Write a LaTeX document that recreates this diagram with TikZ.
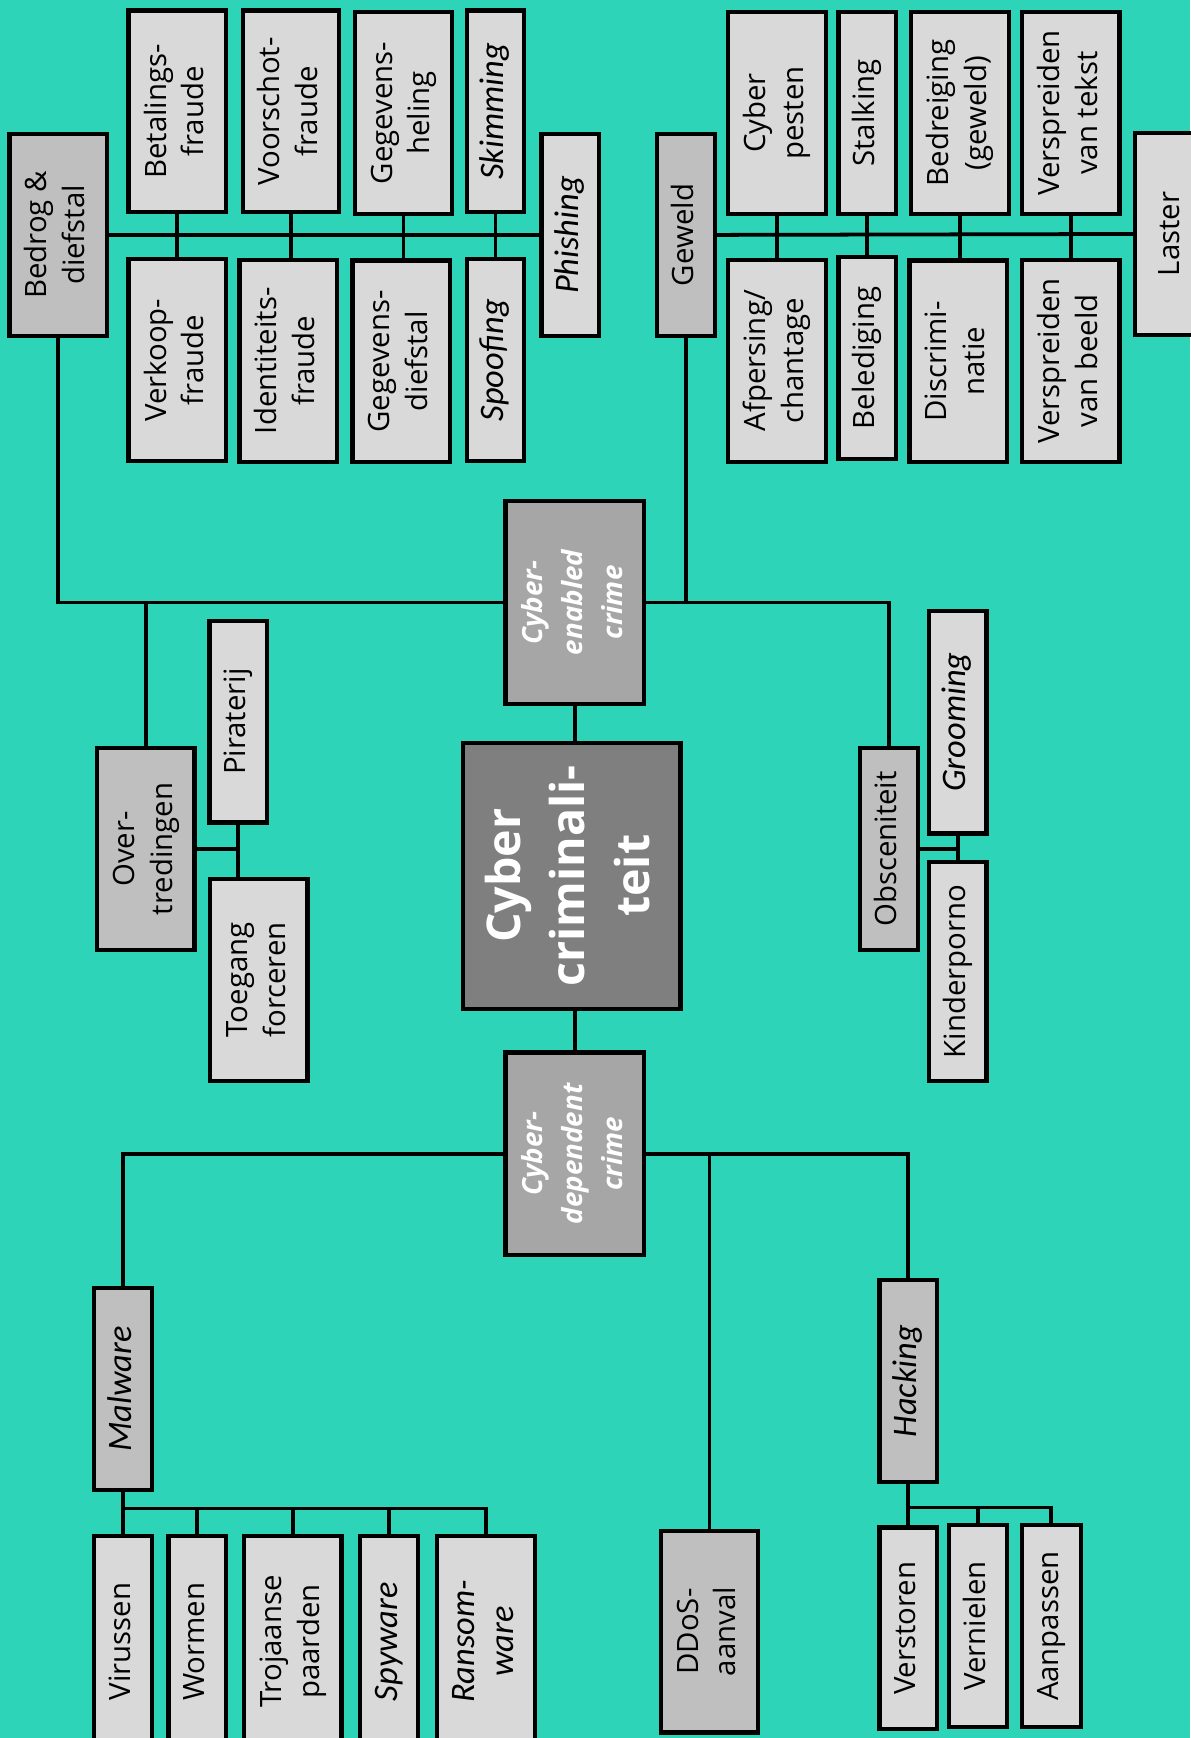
\documentclass[tikz,border=0pt]{standalone}
\usepackage{fontspec}
\setmainfont{Open Sans}
\newfontfamily\calfont{Carlito}
\usepackage{xcolor}
\usepackage{graphicx}
\usepackage{tikz}
\definecolor{tealbg}{RGB}{45,212,184}
\definecolor{boxlight}{RGB}{217,217,217}
\definecolor{boxmid}{RGB}{191,191,191}
\definecolor{boxdark}{RGB}{166,166,166}
\definecolor{boxcore}{RGB}{127,127,127}
\newcommand{\rt}[1]{\rotatebox{90}{\begin{tabular}{@{}c@{}}#1\end{tabular}}}
\tikzset{
    box/.style={draw, line width=3.8pt, fill=boxlight, inner sep=0pt,
               minimum height=182pt, font=\fontsize{26.5}{34}\selectfont},
    wide/.style={box, minimum width=88pt},
    narrow/.style={box, minimum width=52pt},
    mid/.style={fill=boxmid},
    ital/.style={font=\calfont\itshape\fontsize{31}{36}\selectfont},
    link/.style={line width=3.4pt}
}

\begin{document}
\begin{tikzpicture}[
    x=1pt, y=-1pt,
    crime/.style={box, minimum width=125pt, minimum height=183pt, fill=boxdark,
                  text=white, font=\bfseries\itshape\fontsize{25}{36}\selectfont},
    core/.style={box, minimum width=196pt, minimum height=240pt, fill=boxcore,
                 text=white, font=\bfseries\fontsize{42}{58}\selectfont}
]
\useasboundingbox (0,0) rectangle (1074,1568);
\fill[tealbg] (0,0) rectangle (1074,1568);

\node[wide, mid] (bedrog) at (52.5,212) {\rt{Bedrog \&\\diefstal}};
\node[wide] (betalings) at (160,100.5) {\rt{Betalings-\\fraude}};
\node[wide, minimum width=86pt] (voorschot) at (262.5,100.5) {\rt{Voorschot-\\fraude}};
\node[wide] (heling) at (364,102) {\rt{Gegevens-\\heling}};
\node[narrow, ital] (skimming) at (447,100.5) {\rt{Skimming}};
\node[narrow, ital] (phishing) at (514.5,212) {\rt{Phishing}};
\node[wide] (verkoop) at (160,325) {\rt{Verkoop-\\fraude}};
\node[wide] (identiteit) at (260,325.5) {\rt{Identiteits-\\fraude}};
\node[wide] (diefstal) at (362,326) {\rt{Gegevens-\\diefstal}};
\node[narrow, ital] (spoofing) at (447,325) {\rt{Spoofing}};
\draw[link] (bedrog) -- (phishing);
\foreach \a/\b in {betalings/verkoop, voorschot/identiteit, heling/diefstal, skimming/spoofing}
    \draw[link] (\a.south) -- (\a.south |- \b.north);

\node[narrow, mid] (geweld) at (619,212) {\rt{Geweld}};
\node[wide] (pesten) at (701,102) {\rt{Cyber\\pesten}};
\node[narrow] (stalking) at (782.5,102) {\rt{Stalking}};
\node[wide] (bedreiging) at (866,102) {\rt{Bedreiging\\(geweld)}};
\node[wide] (tekst) at (966,102) {\rt{Verspreiden\\van tekst}};
\node[box, minimum width=66pt] (laster) at (1057,211) {\rt{Laster}};
\node[wide] (afpersing) at (701,325.5) {\rt{Afpersing/\\chantage}};
\node[narrow] (belediging) at (782.5,323) {\rt{Belediging}};
\node[wide] (discriminatie) at (864.5,326) {\rt{Discrimi-\\natie}};
\node[wide] (beeld) at (966,325.5) {\rt{Verspreiden\\van beeld}};
\draw[link] (geweld) -- (laster);
\foreach \a/\b in {pesten/afpersing, stalking/belediging, bedreiging/discriminatie, tekst/beeld}
    \draw[link] (\a.south) -- (\a.south |- \b.north);

\node[crime] (enabled) at (518.5,543.5) {\rt{Cyber-\\enabled\\crime}};
\node[wide, mid] (overtr) at (131.5,766) {\rt{Over-\\tredingen}};
\node[narrow] (piraterij) at (215,651) {\rt{Piraterij}};
\node[wide] (toegang) at (233.5,884) {\rt{Toegang\\forceren}};
\node[core] (core) at (516,790) {\rt{Cyber\\criminali-\\teit}};
\node[narrow, mid] (obsc) at (802,766) {\rt{Obsceniteit}};
\node[narrow, ital, minimum height=201pt] (grooming) at (864,651.5) {\rt{Grooming}};
\node[narrow, minimum height=197pt] (kinderporno) at (864,876.5) {\rt{Kinderporno}};
\node[crime] (dependent) at (518.5,1041) {\rt{Cyber-\\dependent\\crime}};
\draw[link] (bedrog.south) |- (enabled.west);
\draw[link] (overtr.north) -- (overtr.north |- enabled.west);
\draw[link] (geweld.south) -- (geweld.south |- enabled.east);
\draw[link] (enabled.east) -| (obsc.north);
\draw[link] (enabled.south) -- (enabled.south |- core.north);
\draw[link] (dependent.north |- core.south) -- (dependent.north);
\draw[link] (overtr.east) -- (overtr.east -| piraterij.south);
\draw[link] (piraterij.south) -- (piraterij.south |- toegang.north);
\draw[link] (obsc.east) -- (obsc.east -| grooming.south);
\draw[link] (grooming) -- (kinderporno);

\node[narrow, mid, ital] (malware) at (111,1253) {\rt{Malware}};
\node[wide, mid] (ddos) at (640,1472) {\rt{DDoS-\\aanval}};
\node[narrow, mid, ital] (hacking) at (819.5,1246) {\rt{Hacking}};
\draw[link] (dependent.west) -| (malware.north);
\draw[link] (dependent.east) -| (hacking.north);
\draw[link] (ddos.north) -- (ddos.north |- dependent.east);

\node[narrow, minimum height=190pt] (virussen) at (111,1481) {\rt{Virussen}};
\node[narrow, minimum height=190pt] (wormen) at (178,1481) {\rt{Wormen}};
\node[wide, minimum height=190pt] (trojaans) at (264,1481) {\rt{Trojaanse\\paarden}};
\node[narrow, ital, minimum height=190pt] (spyware) at (351,1481) {\rt{Spyware}};
\node[wide, ital, minimum height=190pt] (ransomware) at (438.5,1481) {\rt{Ransom-\\ware}};
\coordinate (mbus) at (111,1361);
\draw[link] (malware.south) -- (virussen.north);
\draw[link] (mbus) -| (ransomware.north);
\foreach \n in {wormen, trojaans, spyware}
    \draw[link] (\n.north) -- (\n.north |- mbus);

\node[narrow] (verstoren) at (819.5,1469) {\rt{Verstoren}};
\node[narrow] (vernielen) at (882.5,1467) {\rt{Vernielen}};
\node[narrow, minimum width=53pt] (aanpassen) at (948.5,1467) {\rt{Aanpassen}};
\coordinate (hbus) at (819.5,1360);
\draw[link] (hacking.south) -- (verstoren.north);
\draw[link] (hbus) -| (aanpassen.north);
\draw[link] (vernielen.north) -- (vernielen.north |- hbus);
\end{tikzpicture}
\end{document}
